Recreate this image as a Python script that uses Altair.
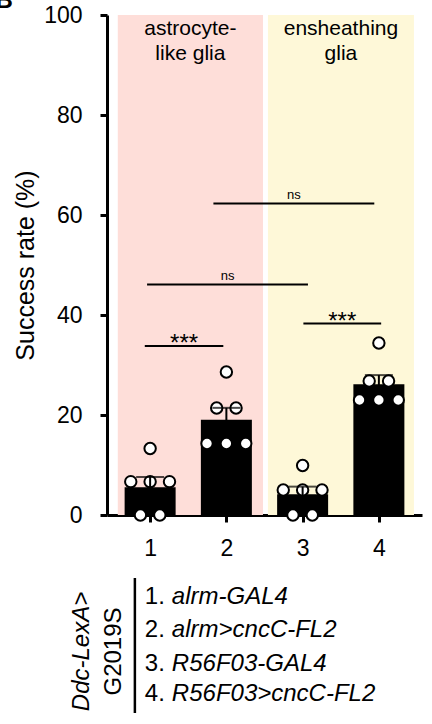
import altair as alt
import pandas as pd
from collections import Counter

# ---------------- data ----------------
groups = [1, 2, 3, 4]
g1_values = [0.0, 0.0, 6.67, 6.67, 6.67, 13.3]
g2_values = [14.3, 14.3, 14.3, 21.4, 21.4, 28.6]
g3_values = [0.0, 0.0, 5.0, 5.0, 5.0, 9.9]
g4_values = [23.0, 23.0, 23.0, 26.8, 26.8, 34.4]

region_names = ["astrocyte-\nlike glia", "ensheathing\nglia"]
region_from = [0.576, 2.545]
region_to = [2.48, 4.46]

sig_labels = ["***", "ns", "ns", "***"]
sig_from = [0.93, 0.96, 1.83, 3.01]
sig_to = [1.96, 3.07, 3.94, 4.03]
sig_level = [33.8, 46.1, 62.3, 38.3]

legend_numbers = ["1.", "2.", "3.", "4."]
legend_names = ["alrm-GAL4", "alrm>cncC-FL2", "R56F03-GAL4", "R56F03>cncC-FL2"]
genotype_lines = ["Ddc-LexA>", "G2019S"]

# ---------------- layout / style ----------------
FONT = "Liberation Sans"
SPREAD = 0.254          # horizontal spacing of tied points (x units)
REGION_COLORS = ["#FEDED9", "#FEF8D8"]
legend_rows_y = [-16.4, -23.0, -29.8, -35.8]
legend_num_x = 0.93
legend_name_x = 1.285
geno_x = [0.11, 0.52]
geno_y = -27.3
geno_styles = ["italic", "normal"]
legend_bar = {"x": 0.80, "y": -12.6, "y2": -39.6}
region_text_y = [97.2, 92.3]

# ---------------- tables ----------------
rows = []
for g, vals in zip(groups, [g1_values, g2_values, g3_values, g4_values]):
    cnt = Counter(vals)
    seen = {}
    for v in vals:
        k = cnt[v]
        i = seen.get(v, 0)
        seen[v] = i + 1
        rows.append({"g": g, "v": v, "xp": g + (i - (k - 1) / 2) * SPREAD})
pts = pd.DataFrame(rows)

regions = pd.DataFrame({
    "x1": region_from, "x2": region_to, "y1": [0, 0], "y2": [100, 100],
    "c": REGION_COLORS,
})
region_text = []
for name, a, b in zip(region_names, region_from, region_to):
    for j, line in enumerate(name.split("\n")):
        region_text.append({"x": (a + b) / 2, "y": region_text_y[j], "t": line})
region_text = pd.DataFrame(region_text)

sig = pd.DataFrame({"x1": sig_from, "x2": sig_to, "y": sig_level, "t": sig_labels,
                    "xm": [(a + b) / 2 for a, b in zip(sig_from, sig_to)]})

leg = pd.DataFrame({"num": legend_numbers, "name": legend_names, "y": legend_rows_y,
                    "xn": [legend_num_x] * 4, "xs": [legend_name_x] * 4})
geno = pd.DataFrame({"t": genotype_lines, "x": geno_x, "y": [geno_y] * 2, "s": geno_styles})
vbar = pd.DataFrame([legend_bar])
panel = pd.DataFrame({"t": ["B"], "x": [-0.80], "y": [101.4]})

# ---------------- scales / axes ----------------
XS = alt.Scale(domain=[0.5, 4.5], nice=False, zero=False)
YS = alt.Scale(domain=[0, 100], nice=False)
XA = alt.Axis(values=[1, 2, 3, 4], format="d", title=None, grid=False,
              domainColor="black", domainWidth=3, tickColor="black", tickWidth=3,
              tickSize=7, labelFontSize=23, labelFont=FONT, labelColor="black",
              labelPadding=15)
YA = alt.Axis(values=[0, 20, 40, 60, 80, 100], title="Success rate (%)", grid=False,
              domainColor="black", domainWidth=3, tickColor="black", tickWidth=3,
              tickSize=7, labelFontSize=23, labelFont=FONT, labelColor="black",
              labelPadding=18, titleFont=FONT, titleFontSize=25,
              titleFontWeight="normal", titleColor="black", titlePadding=5)


def X(f):
    return alt.X(f"{f}:Q", scale=XS, axis=XA)


def Y(f, agg=None):
    if agg:
        return alt.Y(f"{agg}({f}):Q", scale=YS, axis=YA)
    return alt.Y(f"{f}:Q", scale=YS, axis=YA)


bg = alt.Chart(regions).mark_rect().encode(
    x=X("x1"), x2="x2:Q", y=Y("y1"), y2="y2:Q",
    color=alt.Color("c:N", scale=None))

bg_text = alt.Chart(region_text).mark_text(
    font=FONT, fontSize=21, color="black", baseline="middle").encode(
    x=X("x"), y=Y("y"), text="t:N")

bars = alt.Chart(pts).mark_bar(size=51, color="black").encode(
    x=X("g"), y=Y("v", "mean"))

dots = alt.Chart(pts).mark_point(
    shape="circle", filled=True, fill="white", stroke="black", strokeWidth=2,
    size=130, opacity=1).encode(x=X("xp"), y=Y("v"))

err = alt.Chart(pts).mark_errorbar(
    extent="stderr", orient="vertical", ticks=True, size=28, thickness=2,
    color="black").encode(x=X("g"), y=Y("v"))

sig_rules = alt.Chart(sig).mark_rule(color="black", strokeWidth=2).encode(
    x=X("x1"), x2="x2:Q", y=Y("y"))

ns_text = alt.Chart(sig).transform_filter(alt.datum.t == "ns").mark_text(
    font=FONT, fontSize=13, color="black", baseline="middle", dy=-9).encode(
    x=X("xm"), y=Y("y"), text="t:N")

star_text = alt.Chart(sig).transform_filter(alt.datum.t != "ns").mark_text(
    font=FONT, fontSize=24, color="black", baseline="alphabetic", dy=5).encode(
    x=X("xm"), y=Y("y"), text="t:N")

leg_num = alt.Chart(leg).mark_text(
    font=FONT, fontSize=24, color="black", align="left", baseline="middle").encode(
    x=X("xn"), y=Y("y"), text="num:N")

leg_name = alt.Chart(leg).mark_text(
    font=FONT, fontSize=24, color="black", align="left", baseline="middle",
    fontStyle="italic").encode(x=X("xs"), y=Y("y"), text="name:N")

geno_it = alt.Chart(geno).transform_filter(alt.datum.s == "italic").mark_text(
    font=FONT, fontSize=24, color="black", angle=270, align="center",
    baseline="middle", fontStyle="italic").encode(x=X("x"), y=Y("y"), text="t:N")

geno_nm = alt.Chart(geno).transform_filter(alt.datum.s == "normal").mark_text(
    font=FONT, fontSize=24, color="black", angle=270, align="center",
    baseline="middle").encode(x=X("x"), y=Y("y"), text="t:N")

vline = alt.Chart(vbar).mark_rule(color="black", strokeWidth=2.5).encode(
    x=X("x"), y=Y("y"), y2="y2:Q")

panel_text = alt.Chart(panel).mark_text(
    font=FONT, fontSize=24, fontWeight="bold", color="black", align="right",
    baseline="alphabetic").encode(x=X("x"), y=Y("y"), text="t:N")

chart = alt.layer(
    bg, bg_text, bars, dots, err, sig_rules, ns_text, star_text,
    leg_num, leg_name, geno_it, geno_nm, vline, panel_text
).properties(
    width=315, height=500,
    autosize=alt.AutoSizeParams(type="none"),
    padding={"left": 107, "top": 15, "right": 10, "bottom": 209},
).configure_view(stroke=None)

chart.save("out.html", embed_options={"renderer": "svg", "actions": False})
